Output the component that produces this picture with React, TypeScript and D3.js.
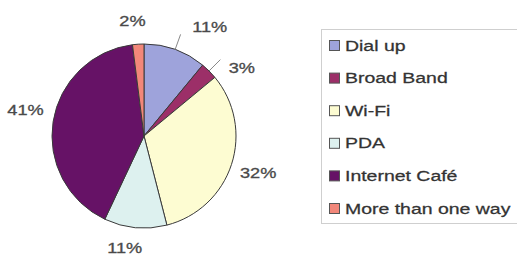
import React from "react";
import * as d3 from "d3";

const categories = ["Dial up", "Broad Band", "Wi-Fi", "PDA", "Internet Café", "More than one way"];
const values = [11, 3, 32, 11, 41, 2];
const percentLabels = ["11%", "3%", "32%", "11%", "41%", "2%"];
const colors = ["#9ea3db", "#9c2f68", "#fdfcd2", "#ddf1ef", "#661266", "#f2877a"];

// layout config (not data)
const W = 517, H = 260;
const cx = 144, cy = 136, r = 92;
const labelR = 120;
const nudges: [number, number][] = [[25, 4], [13, 17], [0, 0], [-8, -8], [0, -7], [-4, 5]];
const leaders = [true, true, false, false, false, false];

export default function App() {
  const pie = d3.pie<number>().sort(null).value((d) => d)(values);
  const arc = d3.arc<d3.PieArcDatum<number>>().innerRadius(0).outerRadius(r);
  const polar = (a: number, rad: number): [number, number] => [cx + rad * Math.sin(a), cy - rad * Math.cos(a)];
  const legendY = d3.scaleLinear().domain([0, categories.length - 1]).range([46, 209]);

  return (
    <svg width={W} height={H} style={{ position: "absolute", left: 0, top: 0, background: "#fff" }}
      fontFamily="Liberation Sans, Arial, sans-serif">
      <g transform={`translate(${cx},${cy})`}>
        {pie.map((p, i) => (
          <path key={i} d={arc(p) || ""} fill={colors[i]} stroke="#3a3a3a" strokeWidth={1} />
        ))}
      </g>
      {pie.map((p, i) => {
        const mid = (p.startAngle + p.endAngle) / 2;
        const [lx, ly] = polar(mid, labelR);
        const x = lx + nudges[i][0], y = ly + nudges[i][1];
        const [ax, ay] = polar(mid, r);
        const [bx, by] = polar(mid, r + 16);
        return (
          <g key={i}>
            {leaders[i] && <line x1={ax} y1={ay} x2={bx} y2={by} stroke="#888" strokeWidth={1} />}
            <text transform={`translate(${x},${y}) scale(1.3,1)`} textAnchor="middle" dominantBaseline="central"
              fontSize={14} fill="#4a4a4a" stroke="#4a4a4a" strokeWidth={0.3}>{percentLabels[i]}</text>
          </g>
        );
      })}
      <rect x={321.5} y={29.5} width={210} height={194} fill="#fff" stroke="#cfcfcf" strokeWidth={1} />
      {categories.map((c, i) => {
        const y = legendY(i);
        return (
          <g key={c}>
            <rect x={329.5} y={y - 5.5} width={10} height={10} fill={colors[i]} stroke="#555" strokeWidth={1} />
            <text transform={`translate(345,${y}) scale(1.39,1)`} dominantBaseline="central" fontSize={14}
              fill="#333" stroke="#333" strokeWidth={0.25}>{c}</text>
          </g>
        );
      })}
    </svg>
  );
}
